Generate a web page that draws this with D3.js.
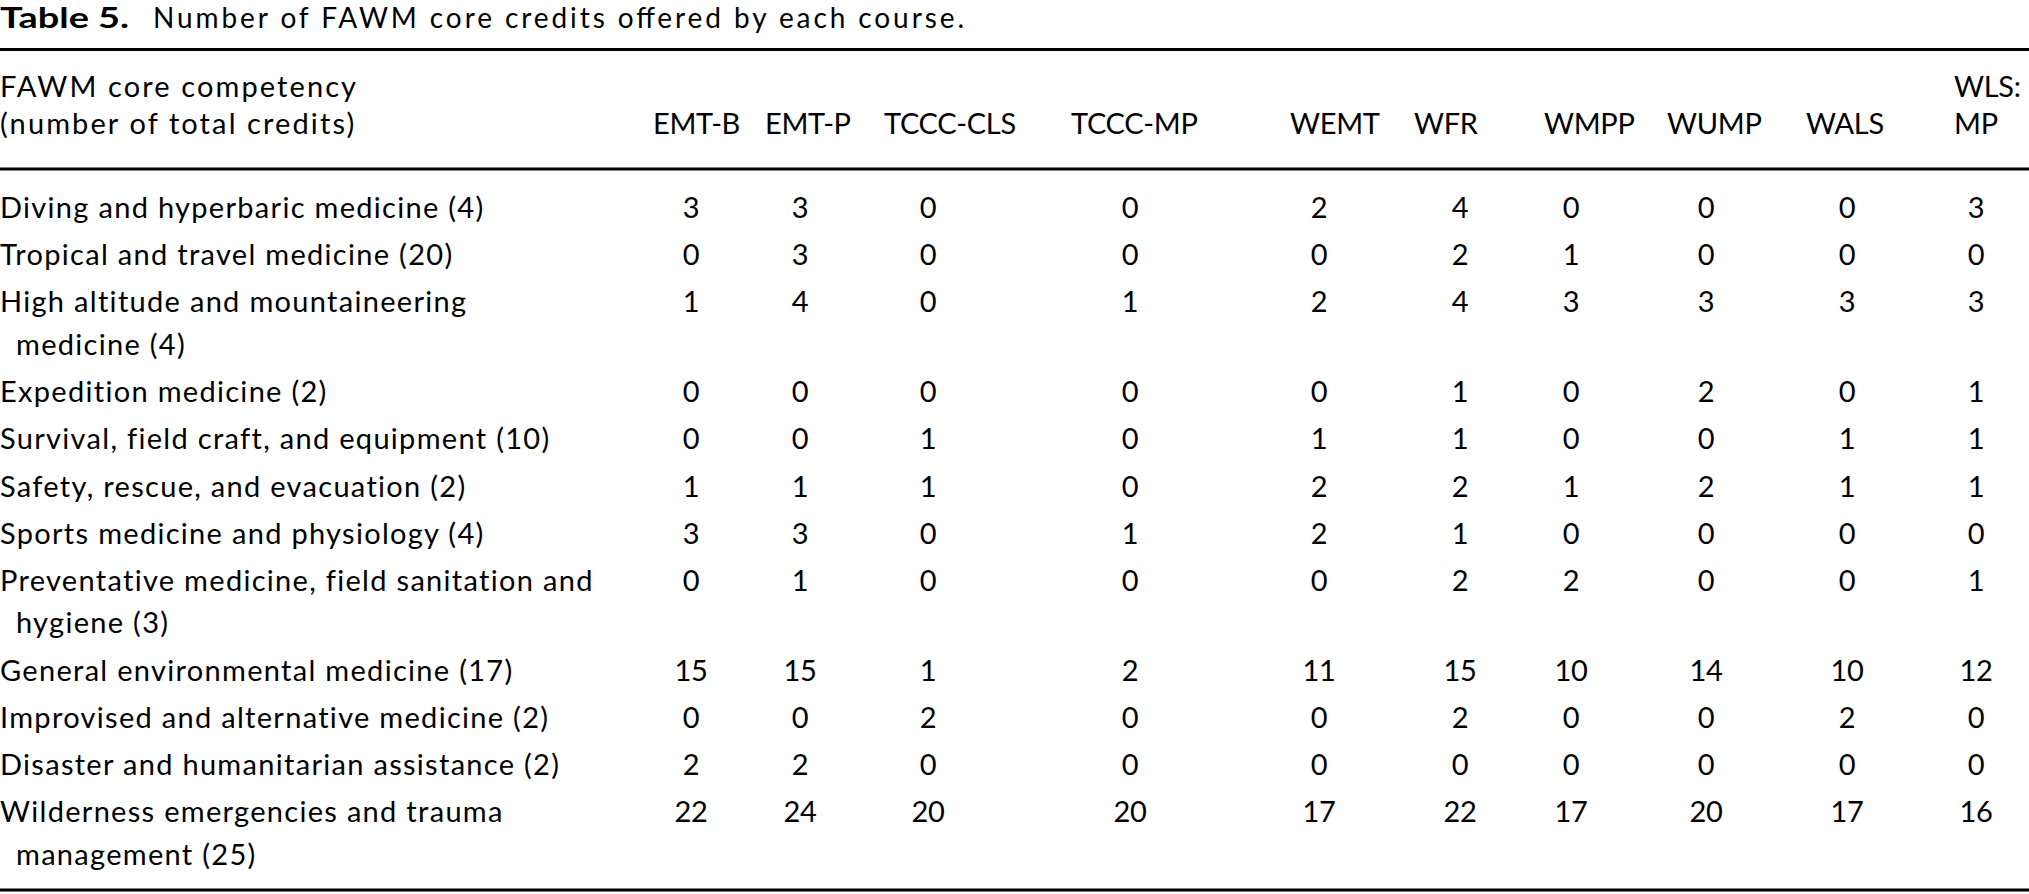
<!DOCTYPE html>
<html>
<head>
<meta charset="utf-8">
<script src="https://cdn.jsdelivr.net/npm/d3@7"></script>
<style>
  html, body { margin: 0; padding: 0; background: #fff; }
  svg text { font-family: Lato, "Open Sans", sans-serif; fill: #000; }
</style>
</head>
<body>
<div id="table"></div>
<script>
// table content
var titleBold = 'Table 5.'
var titleText = 'Number of FAWM core credits offered by each course.'
var stubHeader = ['FAWM core competency', '(number of total credits)']
var courses = ['EMT-B', 'EMT-P', 'TCCC-CLS', 'TCCC-MP', 'WEMT', 'WFR', 'WMPP', 'WUMP', 'WALS', 'WLS:MP']
var courseLines = [['EMT-B'], ['EMT-P'], ['TCCC-CLS'], ['TCCC-MP'], ['WEMT'], ['WFR'], ['WMPP'], ['WUMP'], ['WALS'], ['WLS:', 'MP']]
var competencies = [
	['Diving and hyperbaric medicine (4)'],
	['Tropical and travel medicine (20)'],
	['High altitude and mountaineering', 'medicine (4)'],
	['Expedition medicine (2)'],
	['Survival, field craft, and equipment (10)'],
	['Safety, rescue, and evacuation (2)'],
	['Sports medicine and physiology (4)'],
	['Preventative medicine, field sanitation and', 'hygiene (3)'],
	['General environmental medicine (17)'],
	['Improvised and alternative medicine (2)'],
	['Disaster and humanitarian assistance (2)'],
	['Wilderness emergencies and trauma', 'management (25)']
]
// one row per competency, one value per course
var credits = [
	[3, 3, 0, 0, 2, 4, 0, 0, 0, 3],
	[0, 3, 0, 0, 0, 2, 1, 0, 0, 0],
	[1, 4, 0, 1, 2, 4, 3, 3, 3, 3],
	[0, 0, 0, 0, 0, 1, 0, 2, 0, 1],
	[0, 0, 1, 0, 1, 1, 0, 0, 1, 1],
	[1, 1, 1, 0, 2, 2, 1, 2, 1, 1],
	[3, 3, 0, 1, 2, 1, 0, 0, 0, 0],
	[0, 1, 0, 0, 0, 2, 2, 0, 0, 1],
	[15, 15, 1, 2, 11, 15, 10, 14, 10, 12],
	[0, 0, 2, 0, 0, 2, 0, 0, 2, 0],
	[2, 2, 0, 0, 0, 0, 0, 0, 0, 0],
	[22, 24, 20, 20, 17, 22, 17, 20, 17, 16]
]

var W = 2029, H = 894
var fs = 29
var svg = d3.select('#table').append('svg')
	.attr('width', W).attr('height', H)

// column anchors (header left edge and number centre)
var xHead = d3.scaleOrdinal().domain(courses)
	.range([653, 765, 884, 1071, 1290, 1414, 1544, 1667, 1806, 1954])
var xVal = d3.scaleOrdinal().domain(courses)
	.range([691, 800, 928, 1130, 1319, 1460, 1571, 1706, 1847, 1976])

// row baselines: fixed step between rows, smaller step for wrapped lines
var firstBase = 218, rowStep = 47.2, wrapStep = 42.5
var rowBase = []
var y = firstBase
competencies.forEach(function(c, i){
	rowBase.push(y)
	y += (c.length - 1) * wrapStep + rowStep
})

// lowercase text runs a bit wider than Lato, capitals a bit narrower
function labelText(sel, ls){
	return sel.style('font-size', fs + 'px').style('letter-spacing', (ls || 1.3) + 'px')
}
function capsText(sel){
	return sel.style('font-size', fs + 'px').style('letter-spacing', '-0.3px')
}

// title
svg.append('text')
	.attr('x', 0).attr('y', 28)
	.attr('font-weight', 'bold')
	.attr('textLength', 129).attr('lengthAdjust', 'spacingAndGlyphs')
	.style('font-size', '28px')
	.text(titleBold)
svg.append('text')
	.attr('x', 153).attr('y', 28)
	.attr('textLength', 811).attr('lengthAdjust', 'spacing')
	.style('font-size', '28px')
	.text(titleText)

// rules
var rules = [49.5, 169, 890]
svg.selectAll('line.rule').data(rules).enter().append('line')
	.attr('class', 'rule')
	.attr('x1', 0).attr('x2', W)
	.attr('y1', function(d){ return d }).attr('y2', function(d){ return d })
	.attr('stroke', '#000').attr('stroke-width', 3)

// header
var headBase = [97, 134]
svg.selectAll('text.stub').data(stubHeader).enter().append('text')
	.attr('class', 'stub')
	.attr('x', 0)
	.attr('y', function(d, i){ return headBase[i] })
	.call(labelText, 2.1)
	.text(function(d){ return d })

var heads = svg.selectAll('g.head').data(courses).enter().append('g')
	.attr('class', 'head')
heads.each(function(c, i){
	var lines = courseLines[i]
	d3.select(this).selectAll('text').data(lines).enter().append('text')
		.attr('x', xHead(c))
		.attr('y', function(d, j){ return headBase[2 - lines.length + j] })
		.call(capsText)
		.text(function(d){ return d })
})

// body rows
var rows = svg.selectAll('g.row').data(competencies).enter().append('g')
	.attr('class', 'row')
rows.each(function(lines, i){
	var g = d3.select(this)
	g.selectAll('text.label').data(lines).enter().append('text')
		.attr('class', 'label')
		.attr('x', function(d, j){ return j ? 16 : 0 })
		.attr('y', function(d, j){ return rowBase[i] + j * wrapStep })
		.call(labelText)
		.text(function(d){ return d })
	g.selectAll('text.val').data(credits[i]).enter().append('text')
		.attr('class', 'val')
		.attr('x', function(d, j){ return xVal(courses[j]) })
		.attr('y', rowBase[i])
		.attr('text-anchor', 'middle')
		.call(capsText)
		.text(function(d){ return d })
})
</script>
</body>
</html>
